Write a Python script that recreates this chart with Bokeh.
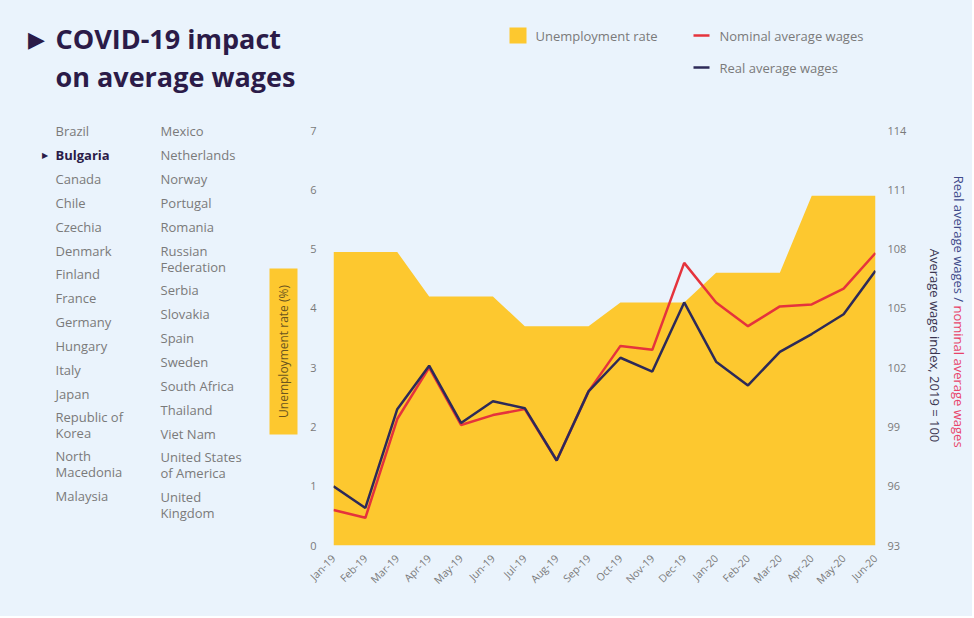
from math import pi
from bokeh.plotting import figure
from bokeh.layouts import column, row
from bokeh.models import Range1d, LinearAxis, FixedTicker
from bokeh.core.properties import value
from bokeh.embed import file_html
from bokeh.resources import INLINE

# ---------------- data ----------------
months = ["Jan-19", "Feb-19", "Mar-19", "Apr-19", "May-19", "Jun-19", "Jul-19", "Aug-19", "Sep-19",
          "Oct-19", "Nov-19", "Dec-19", "Jan-20", "Feb-20", "Mar-20", "Apr-20", "May-20", "Jun-20"]
unemployment = [4.95, 4.95, 4.95, 4.2, 4.2, 4.2, 3.7, 3.7, 3.7,
                4.1, 4.1, 4.1, 4.6, 4.6, 4.6, 5.9, 5.9, 5.9]
nominal_wages = [94.8, 94.4, 99.4, 102.0, 99.1, 99.6, 99.9, 97.3, 100.8,
                 103.1, 102.9, 107.3, 105.3, 104.1, 105.1, 105.2, 106.0, 107.8]
real_wages = [96.0, 94.9, 99.9, 102.1, 99.2, 100.3, 99.95, 97.3, 100.8,
              102.5, 101.8, 105.3, 102.3, 101.1, 102.8, 103.7, 104.7, 106.9]
left_ticks = [0, 1, 2, 3, 4, 5, 6, 7]
right_ticks = [93, 96, 99, 102, 105, 108, 111, 114]
countries_col1 = ["Brazil", "Bulgaria", "Canada", "Chile", "Czechia", "Denmark", "Finland", "France",
                  "Germany", "Hungary", "Italy", "Japan", "Republic of|Korea", "North|Macedonia", "Malaysia"]
countries_col2 = ["Mexico", "Netherlands", "Norway", "Portugal", "Romania", "Russian|Federation", "Serbia",
                  "Slovakia", "Spain", "Sweden", "South Africa", "Thailand", "Viet Nam",
                  "United States|of America", "United|Kingdom"]
selected_country = "Bulgaria"
legend_labels = ["Unemployment rate", "Nominal average wages", "Real average wages"]

# ---------------- style ----------------
BG = "#EAF3FC"
YELLOW = "#FDC82F"
RED = "#E5333C"
NAVY = "#2D2A58"
GREY = "#7A7A7A"
TITLE = "#2B1B48"
FONT = "Open Sans"

W, H = 972, 616
TOP_H = 110
LEFT_W = 300
RIGHT_X = 918
# chart data area in page pixels (0..7 / Jan-19..Jun-20)
PL, PR, PT, PB = 333, 875, 130, 545
EXT = (PB - TOP_H) / (PB - PT)  # frame reaches up to the top of the row


def panel(x0, x1, y0, y1, border_bottom=0):
    f = figure(width=x1 - x0, height=y1 - y0, output_backend="svg", toolbar_location=None,
               x_range=Range1d(x0, x1), y_range=Range1d(y1 - border_bottom, y0),
               x_axis_type=None, y_axis_type=None, min_border=0,
               min_border_bottom=border_bottom,
               background_fill_color=BG, border_fill_color=BG, outline_line_color=None)
    f.xgrid.visible = False
    f.ygrid.visible = False
    return f


def txt(f, s, x, y, size="13px", color=GREY, align="left", baseline="middle", angle=0,
        style="normal"):
    f.text(x=[x], y=[y], text=[s], text_font=value(FONT), text_font_size=value(size),
           text_color=color, text_align=align, text_baseline=baseline, angle=angle,
           text_font_style=style)


# ---------------- top panel: title + legend ----------------
top = panel(0, W, 0, TOP_H)
txt(top, "\u25B6", 27, 37, size="22px", color=TITLE, baseline="alphabetic")
txt(top, "COVID-19 impact", 55, 38, size="27px", color=TITLE, style="bold", baseline="alphabetic")
txt(top, "on average wages", 55, 76, size="27px", color=TITLE, style="bold", baseline="alphabetic")
top.quad(left=[509], right=[526], top=[27], bottom=[43], fill_color=YELLOW, line_color=None)
txt(top, legend_labels[0], 535, 35)
top.segment(x0=[693], x1=[709], y0=[35], y1=[35], line_color=RED, line_width=2.5)
txt(top, legend_labels[1], 719, 35)
top.segment(x0=[693], x1=[709], y0=[67], y1=[67], line_color=NAVY, line_width=2.5)
txt(top, legend_labels[2], 719, 67)

# ---------------- left panel: country list + left axis title ----------------
left = panel(0, LEFT_W, TOP_H, H, border_bottom=H - PB)
rows1 = [130, 154, 178, 202, 226, 250, 273, 297, 321, 345, 369, 393, 416, 455, 495]
rows2 = [130, 154, 178, 202, 226, 250, 289, 313, 337, 361, 385, 409, 433, 456, 496]
for col, rows, cx in ((countries_col1, rows1, 55), (countries_col2, rows2, 160)):
    for name, ry in zip(col, rows):
        for k, part in enumerate(name.split("|")):
            if name == selected_country:
                txt(left, part, cx, ry + 16 * k, color=TITLE, style="bold")
                txt(left, "\u25B6", 41, ry, size="8px", color=TITLE)
            else:
                txt(left, part, cx, ry + 16 * k)
left.quad(left=[269], right=[297], top=[268], bottom=[434], fill_color=YELLOW, line_color=None)
txt(left, "Unemployment rate (%)", 283, 351, size="12px", color="#6B5520", align="center",
    angle=pi / 2)

# ---------------- main chart ----------------
p = figure(width=RIGHT_X - LEFT_W, height=H - TOP_H, output_backend="svg", toolbar_location=None,
           x_range=Range1d(0, len(months) - 1), y_range=Range1d(0, left_ticks[-1] * EXT),
           min_border_left=PL - LEFT_W, min_border_right=RIGHT_X - PR,
           min_border_top=0, min_border_bottom=H - PB,
           background_fill_color=BG, border_fill_color=BG, outline_line_color=None)
p.extra_y_ranges = {"wage": Range1d(right_ticks[0],
                                    right_ticks[0] + (right_ticks[-1] - right_ticks[0]) * EXT)}
p.xgrid.visible = False
p.ygrid.visible = False
p.xaxis.ticker = FixedTicker(ticks=list(range(len(months))))
p.xaxis.major_label_overrides = {i: m for i, m in enumerate(months)}
p.xaxis.major_label_orientation = pi / 4
p.yaxis.ticker = FixedTicker(ticks=left_ticks)
right_axis = LinearAxis(y_range_name="wage", ticker=FixedTicker(ticks=right_ticks))
p.add_layout(right_axis, "right")
for ax in p.axis:
    ax.axis_line_color = None
    ax.major_tick_line_color = None
    ax.minor_tick_line_color = None
    ax.major_tick_in = 0
    ax.major_tick_out = 0
    ax.minor_tick_in = 0
    ax.minor_tick_out = 0
    ax.major_label_text_color = GREY
    ax.major_label_text_font = FONT
    ax.major_label_text_font_size = "11px"
p.xaxis.major_label_text_font_size = "10.5px"
p.xaxis.major_label_standoff = 11
p.yaxis[0].major_label_standoff = 17
right_axis.major_label_standoff = 12

x = list(range(len(months)))
p.varea(x=x, y1=[0] * len(x), y2=unemployment, fill_color=YELLOW)
p.line(x=x, y=nominal_wages, y_range_name="wage", line_color=RED, line_width=2.5)
p.line(x=x, y=real_wages, y_range_name="wage", line_color=NAVY, line_width=2.5)

# ---------------- right panel: wage axis titles ----------------
right = panel(RIGHT_X, W, TOP_H, H, border_bottom=H - PB)
txt(right, "Average wage index, 2019 = 100", 934, 345, size="13px", color="#3A3550",
    align="center", angle=-pi / 2)
txt(right, "Real average wages / ", 958, 305, size="13px", color="#3F4A8A", align="right",
    angle=-pi / 2)
txt(right, "nominal average wages", 958, 305, size="13px", color="#E8436A", align="left",
    angle=-pi / 2)

bg = {"background-color": BG}
layout = column(top, row(left, p, right, spacing=0, styles=bg), spacing=0, styles=bg)
open("out.html", "w").write(file_html(layout, INLINE))
